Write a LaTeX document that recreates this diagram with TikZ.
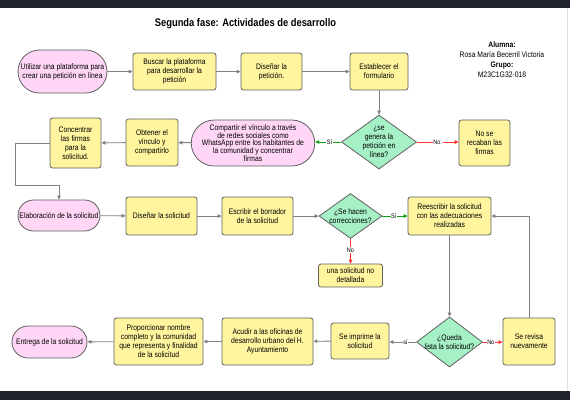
\documentclass[tikz,border=0pt]{standalone}
\usepackage{fontspec}
\setmainfont{Liberation Sans}[FakeStretch=0.85]
\usetikzlibrary{arrows.meta,shapes.geometric,shapes.misc}
\definecolor{ybox}{HTML}{FFF59F}
\definecolor{pinkc}{HTML}{FFD6F6}
\definecolor{greenc}{HTML}{A6F0C6}
\definecolor{bordc}{HTML}{606060}
\definecolor{linec}{HTML}{808080}
\definecolor{greenl}{HTML}{12A012}
\definecolor{redl}{HTML}{FF3030}
\definecolor{darkc}{HTML}{22252E}
\begin{document}
\begin{tikzpicture}[x=1pt,y=-1pt,
  every node/.style={font=\fontsize{8}{9}\selectfont, align=center, inner sep=1pt},
  box/.style={draw=bordc, fill=ybox, rounded corners=2.5pt, line width=0.8pt},
  term/.style={draw=bordc, fill=pinkc, rounded rectangle, line width=0.8pt},
  dia/.style={draw=bordc, fill=greenc, diamond, line width=0.8pt, inner sep=0pt},
  ln/.style={draw=linec, line width=0.9pt, -{Triangle[length=4pt,width=3.6pt]}},
  yesl/.style={ln, draw=greenl},
  nol/.style={ln, draw=redl},
  lab/.style={font=\fontsize{6.5}{6.5}\selectfont, fill=white, inner sep=0.5pt}
]
\useasboundingbox (0,0) rectangle (570,400);
\fill[white] (0,0) rectangle (570,400);
\fill[darkc] (0,0) rectangle (570,8);
\fill[darkc] (0,391) rectangle (570,400);
\draw[gray!25, line width=0.8pt] (567.5,8) -- (567.5,391);

\node[font=\fontsize{11}{13}\selectfont\bfseries] (title) at (245.5,24) {Segunda fase: Actividades de desarrollo};
\node (info) at (502,60) {\textbf{Alumna:}\\[1pt] Rosa María Becerril Victoria\\[1pt] \textbf{Grupo:}\\[1pt] M23C1G32-018};

% row 1
\node[term, minimum width=91pt, minimum height=43pt] (start) at (62.5,71.5) {Utilizar una plataforma para\\crear una petición en línea};
\node[box, minimum width=83pt, minimum height=37pt] (buscar) at (174.5,71.5) {Buscar la plataforma\\para desarrollar la\\petición};
\node[box, minimum width=61pt, minimum height=37pt] (disp) at (271.5,71.5) {Diseñar la\\petición.};
\node[box, minimum width=58pt, minimum height=37pt] (estab) at (379,71.5) {Establecer el\\formulario};

% row 2
\node[dia, minimum width=75pt, minimum height=54pt] (d1) at (379,142) {};
\node at (d1) {¿se\\genera la\\petición en\\línea?};
\node[box, minimum width=51pt, minimum height=46pt] (norec) at (484.5,143) {No se\\recaban las\\firmas};
\node[term, minimum width=112pt, minimum height=46pt, font=\fontsize{8}{7.9}\selectfont] (comp) at (253,143) {Compartir el vínculo a través\\de redes sociales como\\WhatsApp entre los habitantes de\\la comunidad y concentrar\\firmas};
\node[box, minimum width=52pt, minimum height=47pt] (obt) at (152,142.5) {Obtener el\\vínculo y\\compartirlo};
\node[box, minimum width=51pt, minimum height=50pt] (conc) at (75.5,143) {Concentrar\\las firmas\\para la\\solicitud.};

% row 3
\node[term, minimum width=84pt, minimum height=31pt] (elab) at (59,215.5) {Elaboración de la solicitud};
\node[box, minimum width=71pt, minimum height=38pt] (dsol) at (161.5,216) {Diseñar la solicitud};
\node[box, minimum width=71pt, minimum height=38pt] (escr) at (257.5,216) {Escribir el borrador\\de la solicitud};
\node[dia, minimum width=63pt, minimum height=45pt] (d2) at (350.5,216) {};
\node at (d2) {¿Se hacen\\correcciones?};
\node[box, minimum width=83pt, minimum height=38pt] (rees) at (449.5,216) {Reescribir la solicitud\\con las adecuaciones\\realizadas};
\node[box, minimum width=64pt, minimum height=23pt] (nodet) at (350.5,275.5) {una solicitud no\\detallada};

% row 4
\node[dia, minimum width=66pt, minimum height=50pt] (d3) at (449.5,342) {};
\node at (d3) {¿Queda\\lista la solicitud?};
\node[box, minimum width=52pt, minimum height=47pt] (rev) at (529,341.5) {Se revisa\\nuevamente};
\node[box, minimum width=58pt, minimum height=36pt] (imp) at (360,341) {Se imprime la\\solicitud};
\node[box, minimum width=91pt, minimum height=47pt] (acud) at (267.5,341.5) {Acudir a las oficinas de\\desarrollo urbano del H.\\Ayuntamiento};
\node[box, minimum width=89pt, minimum height=47pt] (prop) at (158.5,341.5) {Proporcionar nombre\\completo y la comunidad\\que representa y finalidad\\de la solicitud};
\node[term, minimum width=77pt, minimum height=32pt] (entr) at (49.5,342) {Entrega de la solicitud};

% connectors
\draw[ln] (start) -- (buscar);
\draw[ln] (buscar) -- (disp);
\draw[ln] (disp) -- (estab);
\draw[ln] (estab) -- (d1);
\draw[yesl] (d1.west) -- (d1.west -| comp.east) node[lab, pos=0.45] {Sí};
\draw[nol] (d1.east) -- (d1.east -| norec.west) node[lab, pos=0.5] {No.};
\draw[ln] (comp) -- (obt);
\draw[ln] (obt) -- (conc);
\coordinate (c1) at (15,143);
\coordinate (c2) at (15,185);
\draw[ln] (conc.west) -- (c1) -- (c2) -- (c2 -| elab.north) -- (elab.north);
\draw[ln] (elab) -- (dsol);
\draw[ln] (dsol) -- (escr);
\draw[ln] (escr) -- (d2);
\draw[yesl] (d2.east) -- (rees.west) node[lab, pos=0.45] {Sí};
\draw[nol] (d2.south) -- (nodet.north) node[lab, pos=0.45] {No};
\draw[ln] (rees.south) -- (d3.north);
\draw[nol] (d3.east) -- (d3.east -| rev.west) node[lab, pos=0.4] {No};
\coordinate (c3) at (rev.north |- rees.east);
\draw[ln] (rev.north) -- (c3) -- (rees.east);
\draw[ln] (d3.west) -- (d3.west -| imp.east) node[lab, pos=0.4] {sí};
\draw[ln] (imp) -- (acud);
\draw[ln] (acud) -- (prop);
\draw[ln] (prop) -- (entr);
\end{tikzpicture}
\end{document}
